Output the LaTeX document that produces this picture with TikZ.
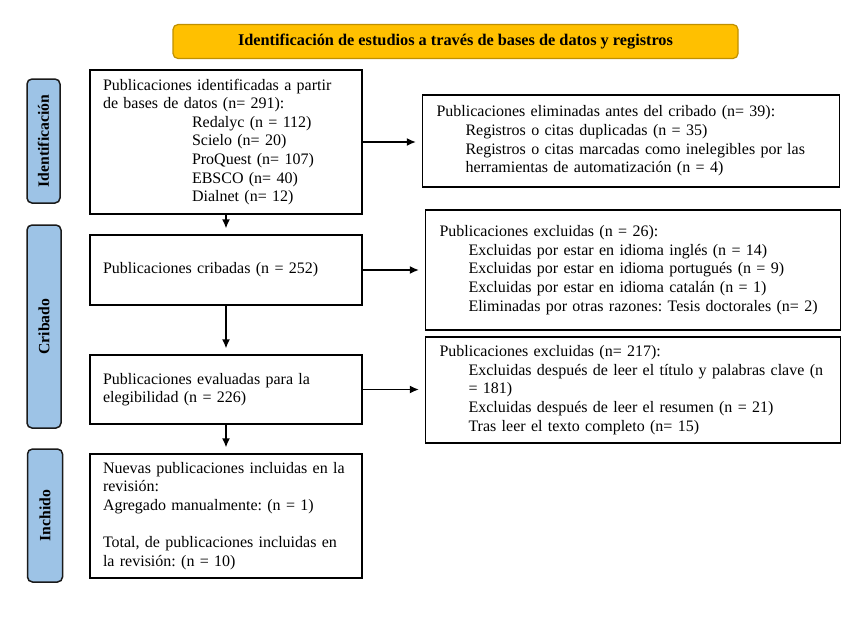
\documentclass[tikz,border=0pt]{standalone}
\usepackage{fontspec}
\setmainfont{Liberation Serif}
\usetikzlibrary{arrows.meta}
\definecolor{titlefill}{HTML}{FFC000}
\definecolor{titledraw}{HTML}{BF9000}
\definecolor{sidefill}{HTML}{9DC3E6}
\definecolor{sidedraw}{HTML}{1A1A1A}
\tikzset{
  mainbox/.style={draw=black, line width=1.3pt, fill=white, inner xsep=13pt, inner ysep=0pt, align=left,
    font=\frenchspacing\fontsize{16}{18.6}\selectfont},
  sidebox/.style={draw=sidedraw, fill=sidefill, line width=1.5pt, rounded corners=5pt, rotate=90,
    inner sep=0pt, font=\bfseries\fontsize{15.7}{17}\selectfont},
  titlebox/.style={draw=titledraw, fill=titlefill, line width=1.2pt, rounded corners=5pt, inner sep=0pt,
    font=\bfseries\fontsize{16.3}{18}\selectfont},
  arr/.style={-{Latex[length=9pt,width=8pt]}, line width=1.4pt, shorten >=6pt}
}
\newcommand{\ind}{\hspace*{29pt}}
\begin{document}
\begin{tikzpicture}[x=1pt,y=-1pt]
\useasboundingbox (0,0) rectangle (850,630);
\node[titlebox, minimum width=565pt, minimum height=34pt] (title) at (455.5,41.5)
  {Identificación de estudios a través de bases de datos y registros};

\node[sidebox, minimum width=124pt, minimum height=33pt] (s1) at (43.5,141) {Identificación};
\node[sidebox, minimum width=203pt, minimum height=34pt] (s2) at (44,326.5) {Cribado};
\node[sidebox, minimum width=133pt, minimum height=35pt] (s3) at (45,515.5) {Inchido};

\node[mainbox, text width=246pt, minimum height=144pt] (b1) at (226,142)
  {Publicaciones identificadas a partir\\
   de bases de datos (n= 291):\\
   \hspace*{89pt}Redalyc (n = 112)\\
   \hspace*{89pt}Scielo (n= 20)\\
   \hspace*{89pt}ProQuest (n= 107)\\
   \hspace*{89pt}EBSCO (n= 40)\\
   \hspace*{89pt}Dialnet (n= 12)};
\node[mainbox, text width=246pt, minimum height=70pt] (b2) at (226,270)
  {Publicaciones cribadas (n = 252)};
\node[mainbox, text width=246pt, minimum height=69pt] (b3) at (226,389.5)
  {Publicaciones evaluadas para la\\elegibilidad (n = 226)};
\node[mainbox, text width=246pt, minimum height=124pt] (b4) at (226,516)
  {Nuevas publicaciones incluidas en la\\
   revisión:\\
   Agregado manualmente: (n = 1)\\[18.6pt]
   Total, de publicaciones incluidas en\\
   la revisión: (n = 10)};

\node[mainbox, inner xsep=14pt, text width=389pt, minimum height=92pt] (r1) at (631,141)
  {Publicaciones eliminadas antes del cribado (n= 39):\\
   \ind Registros o citas duplicadas (n = 35)\\
   \ind Registros o citas marcadas como inelegibles por las\\
   \ind herramientas de automatización (n = 4)};
\node[mainbox, inner xsep=14pt, text width=387pt, minimum height=120pt] (r2) at (633,270)
  {Publicaciones excluidas (n = 26):\\
   \ind Excluidas por estar en idioma inglés (n = 14)\\
   \ind Excluidas por estar en idioma portugués (n = 9)\\
   \ind Excluidas por estar en idioma catalán (n = 1)\\
   \ind Eliminadas por otras razones: Tesis doctorales (n= 2)};
\node[mainbox, inner xsep=14pt, text width=387pt, minimum height=106pt] (r3) at (633,390)
  {Publicaciones excluidas (n= 217):\\
   \ind Excluidas después de leer el título y palabras clave (n\\
   \ind = 181)\\
   \ind Excluidas después de leer el resumen (n = 21)\\
   \ind Tras leer el texto completo (n= 15)};

\draw[arr] (b1.south) -- (b2.north);
\draw[arr] (b2.south) -- (b3.north);
\draw[arr] (b3.south) -- (b4.north);
\draw[arr] (b1.east) -- (b1.east -| r1.west);
\draw[arr] (b2.east) -- (b2.east -| r2.west);
\draw[arr] (b3.east) -- (b3.east -| r3.west);
\end{tikzpicture}
\end{document}
